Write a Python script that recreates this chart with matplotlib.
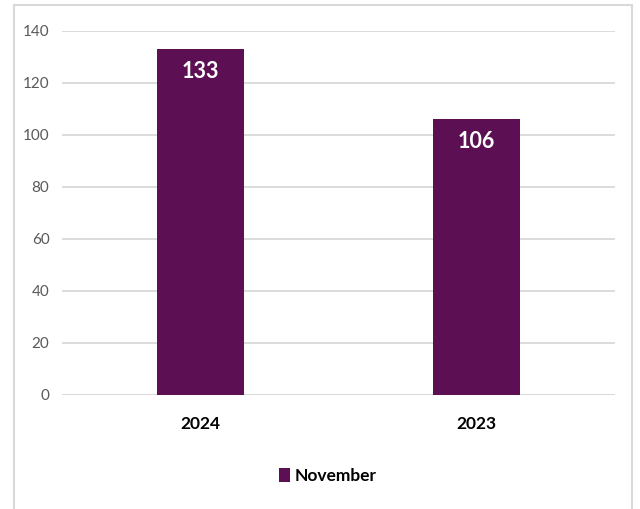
import matplotlib.pyplot as plt
from matplotlib.patches import Rectangle

years = ["2024", "2023"]
november = [133, 106]
y_ticks = [0, 20, 40, 60, 80, 100, 120, 140]

bar_color = "#5C1053"
plt.rcParams['font.family'] = ['Lato', 'DejaVu Sans']

fig = plt.figure(figsize=(6.4, 5.09), dpi=100)
ax = fig.add_axes([62 / 640, 1 - 395 / 509, (615 - 62) / 640, (395 - 31) / 509])

bars = ax.bar(years, november, width=0.315, color=bar_color, label="November", zorder=3)
for rect, v in zip(bars, november):
    ax.text(rect.get_x() + rect.get_width() / 2, v - 4.5, str(v), ha='center', va='top',
            color='white', fontsize=15.5, fontweight='bold', zorder=4)

ax.set_xlim(-0.5, 1.5)
ax.set_ylim(0, 140)
ax.set_yticks(y_ticks)
ax.grid(axis='y', color='#d9d9d9', linewidth=1.3, zorder=0)
for s in ax.spines.values():
    s.set_visible(False)
ax.axhline(0, color='#d9d9d9', linewidth=1.3, zorder=2)
ax.tick_params(axis='both', length=0)
ax.tick_params(axis='y', labelsize=11, labelcolor='#595959', pad=9)
ax.tick_params(axis='x', labelsize=12.5, pad=15)
for lbl in ax.get_xticklabels():
    lbl.set_fontweight('bold')

fig.legend(handles=[bars], labels=["November"], loc='center', bbox_to_anchor=(328 / 640, 1 - 476 / 509),
           frameon=False, prop={'size': 12.5, 'weight': 'bold'}, handlelength=0.6, handleheight=0.8,
           handletextpad=0.3)

fig.patches.append(Rectangle((14 / 640, -0.01), (632 - 14) / 640, 1 - 5 / 509 + 0.01,
                             transform=fig.transFigure, fill=False, edgecolor='#d9d9d9', linewidth=1.5))

fig.savefig("out.png", dpi=100)
